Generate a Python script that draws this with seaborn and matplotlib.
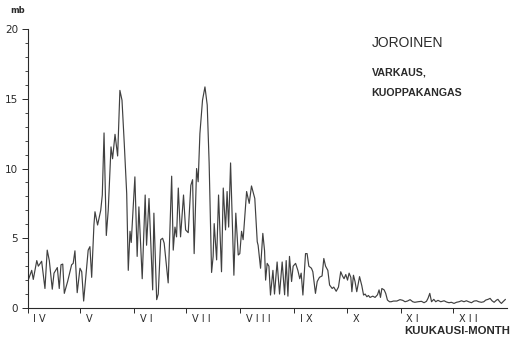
import matplotlib
matplotlib.use("Agg")
import matplotlib.pyplot as plt
from matplotlib.ticker import MultipleLocator
import seaborn as sns
import pandas as pd

# Daily pressure amplitude series, day 0 = 1 April
day = [0.3, 2.3, 3.2, 5.2, 6.1, 8.0, 9.9, 11.2, 12.4, 14.1, 15.1, 17.0, 18.1, 19.1, 20.1,
       21.0, 22.9, 25.2, 26.1, 27.1, 28.4, 30.0, 31.0, 32.1, 34.7, 35.7, 36.7, 38.0, 38.6,
       40.1, 41.9, 42.8, 43.8, 45.1, 46.2, 47.8, 48.7, 50.1, 51.6, 52.9, 54.1, 55.4, 56.8,
       57.7, 58.7, 59.4, 61.5, 62.8, 63.8, 65.7, 67.4, 68.2, 69.6, 71.7, 72.4, 74.0, 74.9,
       76.3, 77.4, 78.3, 80.6, 82.6, 83.5, 84.5, 85.4, 86.4, 87.7, 89.4, 90.6, 92.1, 93.6,
       94.6, 95.5, 96.9, 97.8, 98.8, 100.3, 101.7, 103.0, 104.1, 105.5, 106.4, 107.0, 108.4,
       109.5, 111.2, 112.2, 113.5, 114.4, 115.3, 116.4, 118.3, 119.4, 120.8, 121.7, 122.7,
       123.6, 125.6, 127.1, 128.4, 130.3, 131.7, 132.2, 133.6, 134.9, 135.9, 136.5, 137.4,
       138.4, 139.3, 140.7, 141.6, 143.1, 144.5, 146.0, 147.4, 148.3, 149.3, 150.2, 151.4,
       152.3, 153.7, 155.0, 156.1, 156.9, 157.9, 159.4, 160.3, 161.3, 162.8, 163.6, 165.1,
       166.1, 167.4, 168.9, 169.9, 170.9, 172.2, 173.2, 174.7, 175.6, 177.0, 178.3, 179.6,
       180.6, 181.5, 182.5, 183.5, 184.4, 185.4, 186.0, 186.9, 187.8, 188.8, 190.4, 191.7,
       192.7, 193.6, 194.6, 195.5, 196.4, 198.0, 199.3, 200.7, 201.6, 202.4, 203.2, 204.5,
       205.4, 206.4, 207.6, 208.5, 209.9, 211.8, 213.6, 215.2, 216.5, 217.9, 219.4, 220.9,
       222.1, 224.0, 225.9, 227.4, 228.8, 229.7, 230.7, 231.7, 233.0, 234.1, 235.4, 237.0,
       238.9, 240.3, 241.7, 243.1, 244.6, 246.0, 247.5, 248.9, 250.3, 251.7, 253.0, 254.6,
       256.1, 257.5, 258.8, 260.3, 261.7, 262.8, 264.1, 265.3, 266.4, 267.6, 269.0, 269.8,
       270.8, 271.8, 272.7, 274.1]
mb = [2.0, 2.7, 2.05, 3.4, 3.0, 3.35, 1.4, 4.15, 3.4, 1.35, 2.5, 2.9, 1.4, 3.1, 3.15,
      1.05, 1.9, 3.1, 3.2, 4.1, 1.1, 2.85, 2.6, 0.5, 4.15, 4.4, 2.2, 5.95, 6.9,
      5.95, 7.0, 8.1, 12.55, 5.2, 7.0, 11.55, 10.7, 12.45, 10.9, 15.6, 14.9, 11.8, 8.2,
      2.7, 5.5, 4.7, 9.4, 3.7, 7.25, 2.1, 8.1, 4.5, 7.85, 1.3, 6.8, 0.6, 1.0,
      4.9, 5.0, 4.65, 1.8, 9.45, 4.15, 5.8, 5.1, 8.6, 5.1, 8.1, 5.6, 5.4, 8.8,
      9.2, 3.9, 10.0, 9.05, 12.5, 14.9, 15.85, 14.55, 10.4, 2.55, 3.7, 6.05, 3.45,
      8.1, 2.6, 8.6, 5.6, 8.35, 5.8, 10.4, 2.35, 6.8, 3.8, 3.9, 5.5,
      4.9, 8.35, 7.5, 8.75, 7.85, 4.75, 4.5, 2.85, 5.35, 4.1, 2.0, 3.2,
      3.0, 0.93, 2.7, 1.0, 3.3, 1.0, 3.3, 0.95, 3.4, 0.85, 3.7, 1.9,
      3.0, 3.2, 2.7, 2.1, 2.5, 0.93, 3.9, 3.9, 3.0, 2.85, 2.6, 1.05,
      1.9, 2.2, 2.3, 3.55, 3.0, 2.7, 1.65, 1.4, 1.5, 1.2, 1.5, 2.6,
      2.3, 2.1, 2.4, 2.0, 2.5, 2.2, 1.17, 2.35, 1.9, 1.17, 2.25, 1.6,
      0.93, 1.0, 0.81, 0.9, 0.76, 0.85, 0.76, 0.95, 1.3, 0.76, 1.4, 1.3,
      1.05, 0.57, 0.45, 0.45, 0.5, 0.5, 0.6, 0.55, 0.45, 0.5, 0.6, 0.45,
      0.41, 0.45, 0.48, 0.38, 0.48, 0.7, 1.05, 0.45, 0.62, 0.45, 0.55, 0.45,
      0.52, 0.43, 0.38, 0.41, 0.33, 0.41, 0.45, 0.52, 0.45, 0.52, 0.45, 0.38,
      0.5, 0.52, 0.45, 0.41, 0.45, 0.57, 0.62, 0.69, 0.52, 0.41, 0.57, 0.62,
      0.45, 0.33, 0.45, 0.62]

# Month boundaries (days from 1 April) and Roman numeral labels
month_start = [0, 30, 61, 91, 122, 153, 183, 214, 244]
month_label = ["I V", "V", "V I", "V I I", "V I I I", "I X", "X", "X I", "X I I"]

df = pd.DataFrame({"day": day, "mb": mb})

sns.set_theme(style="ticks")
plt.rcParams["font.family"] = ["DejaVu Sans"]
ink = "#2a2a2a"

fig = plt.figure(figsize=(5.13, 3.43), dpi=100)
ax = fig.add_axes([0.054, 0.102, 0.9343, 0.8134])

sns.lineplot(data=df, x="day", y="mb", ax=ax, estimator=None, sort=False,
             color="#404040", linewidth=0.85)

ax.set_xlim(0, 275)
ax.set_ylim(0, 20)
sns.despine(ax=ax)
for s in ("left", "bottom"):
    ax.spines[s].set_color(ink)
    ax.spines[s].set_linewidth(0.8)

ax.yaxis.set_major_locator(MultipleLocator(5))
ax.yaxis.set_minor_locator(MultipleLocator(1))
ax.tick_params(axis="y", which="major", length=4.3, width=0.7, color=ink,
               labelsize=7.5, labelcolor=ink, pad=2.5)
ax.tick_params(axis="y", which="minor", length=2.2, width=0.6, color=ink)
ax.set_xticks(month_start)
ax.set_xticklabels([])
ax.tick_params(axis="x", which="major", length=3.6, width=0.7, color=ink)
ax.set_xlabel("")
ax.set_ylabel("")

for d, lab in zip(month_start, month_label):
    ax.annotate(lab, xy=(d, 0), xycoords=("data", "axes fraction"),
                xytext=(4.0, -4.3), textcoords="offset points",
                ha="left", va="top", fontsize=7, color=ink)

fig.text(0.035, 0.969, "mb", fontsize=6, fontweight="bold", color=ink,
         ha="center", va="center")
fig.text(0.7246, 0.876, "JOROINEN", fontsize=10, color=ink,
         family="Liberation Sans", ha="left", va="center")
fig.text(0.7246, 0.7878, "VARKAUS,", fontsize=7.7, fontweight="bold", color=ink,
         family="Liberation Sans", ha="left", va="center")
fig.text(0.7246, 0.7303, "KUOPPAKANGAS", fontsize=7.7, fontweight="bold", color=ink,
         family="Liberation Sans", ha="left", va="center")
fig.text(0.7875, 0.035, "KUUKAUSI-MONTH", fontsize=8.2, fontweight="bold", color=ink,
         family="Liberation Sans", ha="left", va="center")

fig.savefig("out.png", dpi=100)
